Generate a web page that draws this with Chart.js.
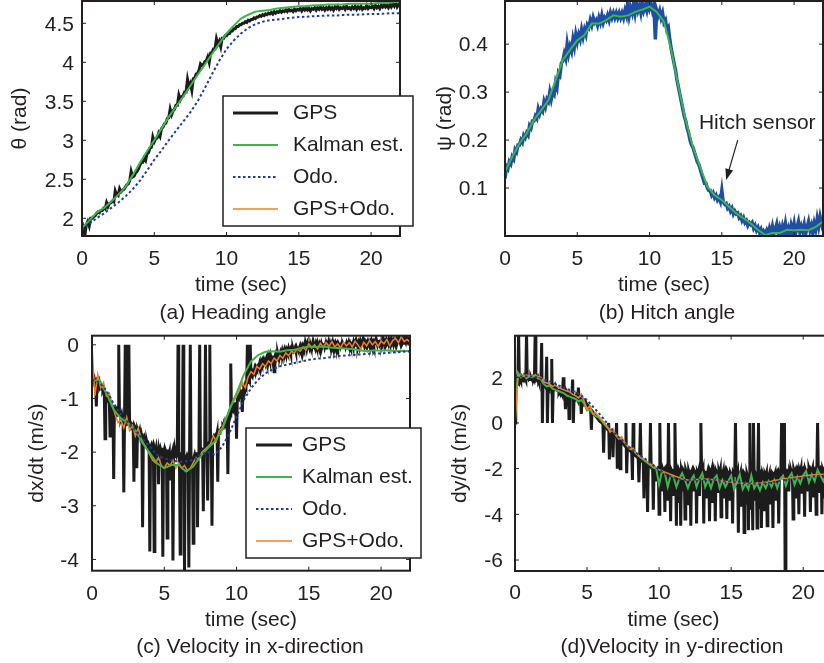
<!DOCTYPE html>
<html>
<head>
<meta charset="utf-8">
<script src="https://cdn.jsdelivr.net/npm/chart.js@4.4.0/dist/chart.umd.min.js"></script>
<style>
  body { margin: 0; width: 824px; height: 663px; overflow: hidden; background: #fff; position: relative;
         font-family: 'Liberation Sans', Arial, sans-serif; color: #231f20; }
  canvas { position: absolute; }
  .cap { position: absolute; font-size: 21px; line-height: 1; white-space: nowrap; transform: translate(-50%, -50%); }
</style>
</head>
<body>
<canvas id="heading" width="416" height="320" style="left:0;top:0;width:416px;height:320px"></canvas>
<canvas id="hitch" width="404" height="320" style="left:420px;top:0;width:404px;height:320px"></canvas>
<canvas id="velx" width="430" height="343" style="left:0;top:320px;width:430px;height:343px"></canvas>
<canvas id="vely" width="410" height="343" style="left:425px;top:320px;width:410px;height:343px"></canvas>
<div class="cap" style="left:243px;top:311px">(a) Heading angle</div>
<div class="cap" style="left:667px;top:311px">(b) Hitch angle</div>
<div class="cap" style="left:250px;top:645px">(c) Velocity in x-direction</div>
<div class="cap" style="left:672px;top:645px">(d)Velocity in y-direction</div>
<script>
/* sampling steps (sec) */
const dtGps = 0.05;
const dtTenth = 0.1;
const dtFifth = 0.2;
const dtHalf = 0.5;

const timeTicks = [0, 5, 10, 15, 20];

/* (a) heading angle, rad */
const gpsHeading = [
  1.95,1.86,1.78,1.92,1.96,1.9,2.0,2.0,2.02,2.03,
  2.06,2.08,2.07,2.1,2.1,2.13,2.12,2.2,2.15,2.19,
  2.2,2.22,2.21,2.35,2.3,2.29,2.38,2.34,2.36,2.37,
  2.4,2.43,2.44,2.48,2.6,2.53,2.54,2.58,2.6,2.63,
  2.68,2.72,2.72,2.77,2.74,2.83,2.84,2.9,2.91,3.04,
  2.98,3.02,3.03,3.09,3.05,3.15,3.17,3.21,3.22,3.28,
  3.29,3.4,3.33,3.38,3.4,3.45,3.45,3.58,3.52,3.56,
  3.57,3.62,3.62,3.78,3.69,3.73,3.64,3.79,3.8,3.85,
  3.86,3.9,3.98,3.96,3.97,4.01,4.02,4.07,4.0,4.12,
  4.13,4.17,4.17,4.3,4.23,4.27,4.2,4.31,4.31,4.34,
  4.34,4.37,4.37,4.4,4.4,4.43,4.43,4.46,4.46,4.48,
  4.48,4.5,4.5,4.52,4.51,4.54,4.53,4.55,4.55,4.57,
  4.56,4.58,4.58,4.6,4.59,4.61,4.6,4.62,4.61,4.63,
  4.62,4.64,4.62,4.65,4.63,4.65,4.64,4.66,4.64,4.66,
  4.65,4.67,4.65,4.68,4.66,4.67,4.65,4.68,4.66,4.68,
  4.67,4.69,4.66,4.69,4.67,4.7,4.67,4.69,4.66,4.69,
  4.68,4.7,4.67,4.7,4.68,4.71,4.68,4.7,4.67,4.7,
  4.68,4.71,4.68,4.7,4.67,4.71,4.69,4.72,4.68,4.7,
  4.69,4.71,4.68,4.72,4.69,4.7,4.68,4.71,4.69,4.72,
  4.68,4.71,4.69,4.72,4.68,4.7,4.69,4.73,4.69,4.71,
  4.7,4.72,4.69,4.73,4.7,4.72,4.69,4.73,4.71,4.74,
  4.71,4.73,4.7,4.74,4.71,4.75,4.72,4.76,4.71,4.74,
  4.72
];
const kalmanHeading = [
  1.88,1.97,2.07,2.13,2.21,2.3,2.4,2.55,2.71,2.86,
  3.0,3.15,3.3,3.43,3.56,3.7,3.84,3.97,4.11,4.24,
  4.37,4.47,4.56,4.61,4.65,4.66,4.67,4.69,4.7,4.71,
  4.72,4.72,4.73,4.73,4.74,4.74,4.74,4.75,4.75,4.75,
  4.75,4.76,4.76,4.77,4.78
];
const odoHeading = [
  1.85,1.93,2.0,2.06,2.13,2.2,2.28,2.37,2.48,2.61,
  2.75,2.87,3.0,3.12,3.24,3.36,3.5,3.67,3.85,4.02,
  4.17,4.28,4.37,4.44,4.49,4.52,4.54,4.55,4.56,4.57,
  4.58,4.585,4.59,4.595,4.6,4.6,4.605,4.61,4.61,4.615,
  4.62,4.62,4.625,4.63,4.63
];

/* (b) hitch angle, rad */
const hitchSensor = [
  0.12,0.145,0.14,0.155,0.15,0.165,0.16,0.18,0.175,0.19,
  0.19,0.2,0.195,0.21,0.205,0.215,0.21,0.23,0.225,0.24,
  0.24,0.25,0.245,0.265,0.255,0.265,0.26,0.28,0.27,0.285,
  0.28,0.3,0.285,0.3,0.295,0.32,0.31,0.34,0.335,0.36,
  0.365,0.38,0.37,0.4,0.38,0.395,0.385,0.41,0.395,0.42,
  0.405,0.42,0.41,0.43,0.415,0.43,0.42,0.44,0.435,0.45,
  0.44,0.455,0.445,0.45,0.44,0.455,0.445,0.46,0.445,0.455,
  0.45,0.46,0.45,0.465,0.455,0.465,0.455,0.465,0.455,0.465,
  0.455,0.465,0.455,0.47,0.46,0.49,0.46,0.475,0.465,0.485,
  0.465,0.485,0.47,0.48,0.465,0.485,0.47,0.48,0.47,0.49,
  0.475,0.485,0.47,0.48,0.41,0.47,0.46,0.47,0.455,0.465,
  0.445,0.45,0.43,0.435,0.41,0.39,0.375,0.36,0.345,0.325,
  0.31,0.295,0.28,0.265,0.25,0.24,0.225,0.215,0.2,0.19,
  0.185,0.175,0.165,0.155,0.15,0.14,0.13,0.12,0.11,0.11,
  0.1,0.095,0.095,0.085,0.09,0.08,0.085,0.075,0.08,0.072,
  0.095,0.07,0.066,0.068,0.058,0.062,0.052,0.058,0.046,0.052,
  0.046,0.048,0.038,0.042,0.032,0.038,0.028,0.032,0.022,0.028,
  0.024,0.028,0.016,0.022,0.012,0.018,0.008,0.014,0.002,0.01,
  0.005,0.012,0.002,0.016,0.006,0.02,0.004,0.014,0.025,0.006,
  0.018,0.004,0.02,0.008,0.026,0.006,0.016,0.002,0.022,0.01,
  0.026,0.004,0.018,0.03,0.008,0.02,0.01,0.024,0.004,0.018,
  0.03,0.012,0.022,0.004,0.026,0.014,0.036,0.02,0.04,0.026,
  0.04
];
const kalmanHitch = [
  0.134,0.165,0.193,0.214,0.242,0.262,0.283,0.325,0.367,0.388,
  0.408,0.419,0.443,0.443,0.45,0.46,0.457,0.46,0.467,0.472,
  0.478,0.467,0.447,0.388,0.311,0.242,0.186,0.144,0.103,0.085,
  0.075,0.061,0.047,0.037,0.026,0.013,0.002,0.006,0.006,0.013,
  0.012,0.013,0.012,0.019,0.03
];

/* (c) velocity x, m/s */
const gpsVx = [
  -0.55,-0.6,-0.65,-0.62,-0.7,-0.68,-1.15,-0.7,-0.72,-0.75,-0.7,-0.78,-0.75,-0.8,-0.78,-0.85,-0.82,-0.88,-1.75,-0.9,
  -0.92,-0.95,-1.0,-0.98,-1.05,-1.7,-1.08,-1.1,-1.15,-1.12,-2.5,-1.2,-1.18,-1.25,-1.22,-1.3,-1.28,0.0,-1.3,-1.32,
  -1.35,-1.3,-1.4,-1.38,-2.75,-1.42,0.0,-1.4,-1.45,-1.42,-1.48,0.0,-1.45,-1.5,-1.48,-1.52,-1.5,-1.55,-2.55,-1.52,
  -1.55,-1.6,-2.3,-1.58,-1.62,-1.65,-1.6,-1.7,-1.65,-1.72,-3.4,-1.75,-1.72,-1.8,-1.78,-1.85,-1.82,-1.88,-1.85,-1.9,
  -3.85,-1.92,-1.88,-1.95,-1.9,-2.0,-3.85,-1.95,-2.0,-1.92,-2.02,-1.95,-2.6,-1.98,-2.05,-1.95,-2.0,-1.92,-3.95,-2.0,
  -1.95,-2.05,-1.98,-2.02,-3.6,-1.95,-2.05,-2.0,-2.5,-1.98,-2.05,-2.0,-4.02,-2.05,-1.95,-2.08,-2.0,-2.05,-1.98,0.0,
  -2.05,-2.1,-3.9,-2.0,-2.08,-2.02,0.0,-2.1,-4.2,-2.05,-2.12,-2.08,-2.15,-2.1,-4.15,-2.05,0.0,-2.12,-2.18,-2.1,
  -3.7,-2.1,-2.05,-2.12,-2.08,-2.0,-3.4,-2.05,-1.98,0.0,-2.02,-1.95,-2.0,-1.92,-3.1,-1.95,-1.9,0.0,-1.92,-1.88,
  -2.9,-1.85,-1.82,0.0,-1.8,-1.78,-3.37,-1.75,-1.72,-1.78,-1.7,-1.68,-1.72,-1.65,-2.55,-1.62,-1.65,-1.6,-1.58,-1.55,
  -1.55,-1.5,-1.52,-1.45,-1.48,-1.4,-1.42,-1.38,-2.41,-1.35,-1.3,-1.32,-0.35,-1.25,-1.2,-1.22,-1.15,-1.18,-1.1,-1.08,
  -1.75,-1.02,-0.98,-1.0,-0.92,-0.95,-0.88,-0.9,-1.25,-0.85,-0.8,-0.82,-0.75,-0.78,-0.72,0.0,-0.7,-0.65,-0.68,0.0,
  -0.6,-0.55,-0.58,-0.5,-0.52,-0.45,-0.5,-0.42,-0.45,-0.4,-0.38,-0.42,-0.35,-0.4,-0.32,-0.36,-0.3,-0.34,-0.28,-0.32,
  -0.3,-0.26,-0.32,-0.24,-0.3,-0.22,-0.28,-0.2,-0.26,-0.22,-0.3,-0.2,-0.5,-0.22,-0.18,-0.25,-0.2,-0.16,-0.22,-0.18,
  -0.2,-0.14,-0.18,-0.12,-0.2,-0.15,-0.1,-0.17,-0.12,-0.19,-0.11,-0.15,-0.08,-0.14,-0.1,-0.16,-0.09,-0.13,-0.07,-0.12,
  -0.1,-0.06,-0.12,-0.05,-0.09,-0.03,-0.1,-0.06,-0.02,-0.08,-0.04,-0.1,-0.03,-0.07,-0.01,-0.06,-0.02,-0.08,0.0,-0.05,
  -0.03,-0.07,0.01,-0.04,-0.08,0.0,-0.05,0.02,-0.03,-0.07,0.01,-0.04,0.03,-0.02,-0.06,0.01,-0.03,0.02,-0.05,0.0,
  -0.02,0.03,-0.04,0.01,-0.06,0.02,-0.01,0.04,-0.03,0.0,-0.05,0.02,-0.02,0.04,-0.04,0.01,-0.03,0.03,-0.01,0.02,
  -0.04,0.02,-0.01,0.04,-0.03,0.01,-0.05,0.03,0.0,-0.02,0.04,-0.03,0.02,-0.04,0.01,0.05,-0.02,0.02,-0.03,0.01,
  0.03,-0.02,0.05,0.0,0.04,-0.03,0.06,0.01,-0.02,0.04,0.0,0.06,-0.01,0.03,0.07,0.0,0.04,-0.02,0.05,0.01,
  0.04,0.0,0.06,0.02,-0.01,0.05,0.01,0.07,0.02,0.05,-0.01,0.04,0.08,0.02,0.06,0.0,0.05,0.09,0.02,0.06,
  0.05,0.02,0.08,0.03,0.06,0.0,0.07,0.1,0.03,0.06,0.02,0.09,0.04,0.07,0.11,0.03,0.06,0.01,0.08,0.04,
  0.06,0.1,0.03,0.08,0.12,0.04,0.07,0.02,0.09,0.13,0.05,0.08,0.03,0.1,0.06,0.14,0.04,0.09,0.06,0.11,
  0.05
];
const fusedVx = [
  0.0,-0.95,-0.55,-0.8,-0.7,-0.95,-0.9,-1.1,-1.3,-1.45,
  -1.4,-1.55,-1.35,-1.6,-1.5,-1.7,-1.55,-1.75,-1.85,-1.95,
  -2.05,-2.15,-2.2,-2.1,-2.25,-2.3,-2.2,-2.25,-2.15,-2.3,
  -2.2,-2.3,-2.25,-2.35,-2.3,-2.2,-2.1,-2.15,-2.0,-1.95,
  -1.9,-1.85,-1.7,-1.8,-1.6,-1.55,-1.4,-1.3,-1.15,-1.05,
  -0.95,-0.85,-0.7,-0.8,-0.6,-0.5,-0.55,-0.4,-0.45,-0.35,
  -0.4,-0.3,-0.35,-0.25,-0.3,-0.2,-0.25,-0.15,-0.2,-0.12,
  -0.15,-0.08,-0.12,-0.04,-0.1,0.02,-0.06,0.0,-0.08,0.03,
  -0.05,0.04,-0.03,0.06,-0.04,0.02,-0.06,0.05,-0.02,0.04,
  -0.04,0.07,0.0,-0.08,0.05,-0.02,0.08,0.0,0.06,-0.03,
  0.07,0.02,0.1,-0.02,0.08,0.12,0.04,0.15,0.06,0.1,
  0.05
];
const kalmanVx = [
  -0.65,-0.68,-0.9,-1.21,-1.37,-1.46,-1.59,-1.83,-2.02,-2.21,
  -2.3,-2.24,-2.24,-2.36,-2.27,-2.08,-1.93,-1.8,-1.59,-1.21,
  -0.9,-0.56,-0.31,-0.19,-0.13,-0.12,-0.13,-0.1,-0.09,-0.06,
  -0.03,-0.04,-0.03,-0.05,-0.06,-0.07,-0.08,-0.1,-0.12,-0.1,
  -0.11,-0.1,-0.12,-0.11,-0.12
];
const odoVx = [
  -0.65,-0.7,-0.85,-1.1,-1.3,-1.45,-1.6,-1.75,-1.9,-2.05,
  -2.12,-2.15,-2.18,-2.17,-2.15,-2.05,-2.0,-2.05,-1.9,-1.65,
  -1.34,-1.03,-0.81,-0.65,-0.53,-0.46,-0.4,-0.37,-0.34,-0.31,
  -0.28,-0.26,-0.25,-0.23,-0.21,-0.2,-0.19,-0.18,-0.17,-0.16,
  -0.16,-0.15,-0.14,-0.13,-0.12
];

/* (d) velocity y, m/s */
const gpsVy = [
  0.0,1.9,2.0,1.95,1.88,4.0,1.92,2.0,1.9,1.98,1.85,1.95,2.02,1.9,1.96,1.88,4.0,1.95,2.0,1.92,
  1.97,1.9,2.02,1.94,1.88,1.98,1.92,2.0,4.0,1.9,1.95,1.88,1.97,1.85,1.92,1.8,1.88,3.5,0.0,1.75,
  1.7,1.65,1.72,1.6,2.9,0.0,1.62,1.55,1.6,1.52,1.58,2.8,0.0,1.5,1.55,1.48,1.52,1.45,1.5,1.42,
  1.4,1.35,1.42,1.32,1.38,1.3,1.35,2.0,1.28,1.32,0.6,1.25,1.3,1.22,1.27,0.2,1.2,1.25,1.18,1.22,
  1.9,0.0,1.12,1.08,1.15,1.05,1.1,1.02,1.55,1.0,1.05,0.98,0.4,0.95,1.0,0.92,0.96,0.88,0.92,0.85,
  0.82,0.78,0.72,0.68,0.62,0.58,-0.3,0.52,0.48,0.42,0.38,0.35,0.3,0.26,0.22,0.18,0.15,0.12,0.08,0.05,
  0.02,-0.02,-0.06,-1.3,-0.1,-0.14,-0.18,-0.22,-0.25,-0.28,0.0,-1.6,-0.35,-0.38,-0.42,-0.45,-1.5,-0.5,-0.55,-0.58,
  -0.6,0.0,-2.0,-0.68,-0.72,-0.75,-2.0,-0.8,-0.84,-0.88,-0.9,-0.94,-0.98,-1.0,0.0,-2.2,-1.08,-1.1,-1.14,-1.18,
  -1.2,-1.24,-1.28,-2.5,0.0,-1.35,-1.38,-1.42,-1.45,-1.48,-1.5,-1.54,-2.6,-1.58,0.0,-1.62,-1.66,-1.68,-1.72,-3.3,
  -1.75,-1.78,-1.8,-1.82,-3.9,-1.86,-1.88,-1.9,0.0,-1.92,-1.95,-1.94,-3.8,-1.98,-1.96,-2.0,-2.5,-2.02,-1.98,-2.04,
  -4.0,0.0,-2.05,-2.1,-3.0,-2.02,-2.12,-2.06,-3.9,-2.1,-2.0,-2.14,-3.4,0.0,-2.08,-2.16,-4.3,-2.05,-2.12,-2.2,
  -3.2,-2.08,0.0,-2.15,-4.5,-2.05,-2.2,-3.5,-2.1,-2.18,-4.5,-2.08,-2.22,-3.0,-2.12,-2.2,-4.2,-2.06,-2.16,-2.24,
  -3.6,-2.1,-2.22,-2.05,-4.5,-2.18,-2.08,-2.25,-3.0,-2.12,-2.2,-2.06,-4.4,-2.16,-2.24,-2.1,-3.2,-2.18,0.0,-2.12,
  -2.22,-2.08,-4.4,-2.18,-2.26,-2.1,-3.3,-2.2,-2.06,-2.24,-4.3,-2.14,-2.22,-2.08,-3.5,-2.2,-2.12,-2.26,-4.3,-2.1,
  -2.18,-2.26,-3.0,-2.12,-2.24,-2.08,-4.1,-2.2,-2.28,-2.14,-3.3,-2.22,-2.1,-2.26,-4.2,-2.16,-2.24,-2.1,-3.4,-2.2,
  -2.28,-2.14,-4.4,-2.22,-2.3,-2.18,0.0,-2.26,-2.34,-2.2,-4.8,-2.28,-2.36,-2.22,-3.6,-2.3,-2.2,-2.34,-4.8,-2.26,
  -2.32,-3.5,-2.24,-2.36,-4.7,-2.28,0.0,-3.8,-2.3,-2.22,-4.7,0.0,-2.34,-3.4,-2.26,-2.36,-4.6,-2.24,0.0,-3.7,
  -2.3,-2.22,-4.6,-2.34,-2.26,-2.36,-3.8,-2.24,-2.32,-2.2,-4.5,-2.3,-2.36,-2.24,-3.5,-2.32,-2.22,-2.34,-4.6,-2.26,
  -2.3,-2.2,-3.4,-2.28,-2.18,-2.3,-4.4,-2.22,-2.3,-2.16,0.0,-2.26,-2.2,-2.3,0.0,-7.0,-2.2,-2.14,-2.26,-2.18,
  -3.0,-2.12,-2.22,-2.08,-2.2,-2.14,-4.2,-2.06,-2.18,-2.1,-3.3,-2.16,-2.04,-2.14,-4.0,-2.08,-2.18,-2.02,-3.1,-2.12,
  -2.04,-2.14,-4.1,-2.06,-2.16,-2.0,-3.0,-2.1,-2.02,-2.14,-3.9,-2.06,-2.12,-2.0,-3.2,-2.1,-2.04,-2.14,-4.0,-2.06,
  0.0,-2.08,-3.0,-2.12,-2.02,-2.1,-4.0,-2.04,-2.14,-2.06,-3.3,-2.0,-2.1,-2.04,-3.9,-2.12,-2.02,-2.1,-3.1,-2.06,
  -2.08
];
const kalmanVy = [
  0.0,2.2,2.0,2.1,1.95,2.05,2.0,2.1,1.95,1.9,
  1.7,1.6,1.65,1.5,1.45,1.4,1.35,1.3,1.2,1.15,
  1.1,1.05,0.95,1.0,0.85,0.55,0.6,0.4,0.3,0.25,
  0.1,-0.05,-0.2,-0.3,-0.35,-0.5,-0.65,-0.7,-0.85,-1.0,
  -1.1,-1.2,-1.3,-1.45,-1.55,-1.65,-1.75,-1.85,-1.95,-2.0,
  -2.7,-2.1,-2.2,-2.8,-2.3,-2.35,-2.8,-2.45,-2.2,-2.5,
  -2.85,-2.5,-2.3,-2.8,-2.45,-2.2,-2.8,-2.5,-2.85,-2.45,
  -2.3,-2.85,-2.5,-2.8,-2.55,-2.3,-2.9,-2.6,-2.25,-2.9,
  -2.65,-2.9,-2.3,-2.85,-2.65,-2.95,-2.6,-2.85,-2.55,-2.8,
  -2.5,-2.85,-2.45,-2.3,-2.75,-2.4,-2.2,-2.7,-2.35,-2.65,
  -2.3,-2.1,-2.6,-2.25,-2.55,-2.05,-2.3,-2.55,-2.2,-2.5,
  -2.25
];
const fusedVy = [
  0.0,2.05,2.1,2.05,2.1,2.05,2.1,2.05,2.05,2.0,
  1.8,1.75,1.7,1.6,1.65,1.55,1.5,1.45,1.4,1.35,
  1.25,1.2,1.1,1.25,0.95,0.6,0.75,0.4,0.45,0.3,
  0.15,0.0,-0.15,-0.4,-0.25,-0.55,-0.7,-0.6,-0.85,-1.0,
  -1.15,-1.1,-1.35,-1.45,-1.5,-1.6,-1.7,-1.8,-1.85,-1.95,
  -2.05,-2.1,-2.15,-2.2,-2.25,-2.3,-2.35,-2.4,-2.45,-2.47,
  -2.5,-2.5,-2.48,-2.47,-2.46,-2.45,-2.45,-2.46,-2.47,-2.48,
  -2.5,-2.52,-2.54,-2.56,-2.58,-2.6,-2.61,-2.62,-2.63,-2.64,
  -2.65,-2.65,-2.65,-2.65,-2.64,-2.63,-2.62,-2.6,-2.58,-2.55,
  -2.52,-2.5,-2.48,-2.45,-2.43,-2.42,-2.4,-2.38,-2.36,-2.34,
  -2.32,-2.3,-2.29,-2.28,-2.27,-2.26,-2.26,-2.25,-2.25,-2.25,
  -2.25
];
const odoVy = [
  2.0,2.05,2.05,2.0,1.9,1.8,1.65,1.52,1.4,1.25,
  1.0,0.65,0.3,-0.1,-0.5,-0.8,-1.1,-1.35,-1.55,-1.8,
  -2.05,-2.25,-2.4,-2.48,-2.5,-2.48,-2.47,-2.48,-2.5,-2.54,
  -2.58,-2.61,-2.63,-2.65,-2.65,-2.63,-2.58,-2.52,-2.47,-2.43,
  -2.4,-2.36,-2.32,-2.29,-2.26
];

/* colours */
const cGps = '#1c1c1c';
const cKalman = '#3db54a';
const cOdo = '#1f3c96';
const cFused = '#f47d20';
const cHitch = '#1f4ea5';
const ink = '#231f20';

Chart.defaults.font.family = "'Liberation Sans', Arial, sans-serif";
Chart.defaults.font.size = 21;
Chart.defaults.color = ink;

function pts(dt, vals) {
  return vals.map((v, i) => ({ x: i * dt, y: v }));
}

function line(label, data, color, width, order, dash) {
  return { label: label, data: data, borderColor: color, borderWidth: width, borderDash: dash || [],
           order: order, pointRadius: 0, fill: false, tension: 0 };
}

/* box round the plot with inward ticks on all four sides */
const frame = {
  id: 'frame',
  afterDatasetsDraw(chart) {
    const ctx = chart.ctx, a = chart.chartArea, x = chart.scales.x, y = chart.scales.y;
    ctx.save();
    ctx.strokeStyle = ink;
    ctx.lineWidth = 1;
    ctx.beginPath();
    x.ticks.forEach(t => {
      const p = x.getPixelForValue(t.value);
      ctx.moveTo(p, a.bottom); ctx.lineTo(p, a.bottom - 4);
      ctx.moveTo(p, a.top); ctx.lineTo(p, a.top + 4);
    });
    y.ticks.forEach(t => {
      const p = y.getPixelForValue(t.value);
      ctx.moveTo(a.left, p); ctx.lineTo(a.left + 4, p);
      ctx.moveTo(a.right, p); ctx.lineTo(a.right - 4, p);
    });
    ctx.stroke();
    ctx.lineWidth = 2;
    ctx.strokeRect(a.left, a.top, a.right - a.left, a.bottom - a.top);
    ctx.restore();
  }
};

/* matlab style legend box */
const boxLegend = {
  id: 'boxLegend',
  afterDraw(chart, args, o) {
    if (!o || !o.rows) return;
    const ctx = chart.ctx;
    ctx.save();
    ctx.fillStyle = '#fff';
    ctx.fillRect(o.x, o.y, o.w, o.h);
    ctx.lineWidth = 1.5;
    ctx.strokeStyle = ink;
    ctx.strokeRect(o.x, o.y, o.w, o.h);
    ctx.font = "21px 'Liberation Sans', Arial, sans-serif";
    ctx.textBaseline = 'middle';
    o.rows.forEach((label, i) => {
      const d = chart.data.datasets.find(s => s.label === label);
      const yy = o.y + o.first + i * o.gap;
      ctx.strokeStyle = d.borderColor;
      ctx.lineWidth = d.borderWidth;
      ctx.setLineDash(d.borderDash);
      ctx.beginPath();
      ctx.moveTo(o.x + o.s0, yy);
      ctx.lineTo(o.x + o.s1, yy);
      ctx.stroke();
      ctx.setLineDash([]);
      ctx.fillStyle = ink;
      ctx.fillText(label, o.x + o.tx, yy);
    });
    ctx.restore();
  }
};

/* text with an arrow, placed in data units */
const note = {
  id: 'note',
  afterDraw(chart, args, o) {
    if (!o || !o.text) return;
    const ctx = chart.ctx, x = chart.scales.x, y = chart.scales.y;
    const x0 = x.getPixelForValue(o.from[0]), y0 = y.getPixelForValue(o.from[1]);
    const x1 = x.getPixelForValue(o.to[0]), y1 = y.getPixelForValue(o.to[1]);
    ctx.save();
    ctx.fillStyle = ink;
    ctx.strokeStyle = ink;
    ctx.font = "21px 'Liberation Sans', Arial, sans-serif";
    ctx.textAlign = 'center';
    ctx.textBaseline = 'middle';
    ctx.fillText(o.text, x.getPixelForValue(o.at[0]), y.getPixelForValue(o.at[1]));
    const ang = Math.atan2(y1 - y0, x1 - x0);
    ctx.lineWidth = 1.2;
    ctx.beginPath();
    ctx.moveTo(x0, y0);
    ctx.lineTo(x1 - 8 * Math.cos(ang), y1 - 8 * Math.sin(ang));
    ctx.stroke();
    ctx.beginPath();
    ctx.moveTo(x1, y1);
    ctx.lineTo(x1 - 11 * Math.cos(ang) + 4 * Math.sin(ang), y1 - 11 * Math.sin(ang) - 4 * Math.cos(ang));
    ctx.lineTo(x1 - 11 * Math.cos(ang) - 4 * Math.sin(ang), y1 - 11 * Math.sin(ang) + 4 * Math.cos(ang));
    ctx.closePath();
    ctx.fill();
    ctx.restore();
  }
};

function panel(id, o) {
  return new Chart(document.getElementById(id), {
    type: 'line',
    data: { datasets: o.sets },
    options: {
      responsive: false,
      animation: false,
      events: [],
      layout: { padding: o.pad, autoPadding: false },
      plugins: {
        legend: { display: false },
        tooltip: { enabled: false },
        boxLegend: o.legend || {},
        note: o.note || {}
      },
      scales: {
        x: {
          type: 'linear', min: 0, max: 22,
          afterBuildTicks: s => { s.ticks = timeTicks.map(v => ({ value: v })); },
          afterFit: s => { s.height = o.xh; s.paddingLeft = 0; s.paddingRight = 0; },
          grid: { display: false, drawTicks: false },
          border: { display: false },
          ticks: { padding: o.xpad, maxRotation: 0, autoSkip: false, callback: v => String(v) },
          title: { display: true, text: 'time (sec)', padding: { top: 0, bottom: 0 } }
        },
        y: {
          type: 'linear', min: o.ymin, max: o.ymax,
          afterBuildTicks: s => { s.ticks = o.yticks.map(v => ({ value: v })); },
          afterFit: s => { s.width = o.yw; s.paddingTop = 0; s.paddingBottom = 0; },
          grid: { display: false, drawTicks: false },
          border: { display: false },
          ticks: { padding: o.ypad, autoSkip: false, labelOffset: 1.5, callback: v => String(v) },
          title: { display: true, text: o.ytitle, padding: { top: o.ytp, bottom: 0 } }
        }
      }
    },
    plugins: [frame, boxLegend, note]
  });
}

/* (a) */
panel('heading', {
  sets: [
    line('GPS', pts(dtTenth, gpsHeading), cGps, 3, 3),
    line('Kalman est.', pts(dtHalf, kalmanHeading), cKalman, 2, 1),
    line('Odo.', pts(dtHalf, odoHeading), cOdo, 2, 2, [2.5, 2.5]),
    line('GPS+Odo.', [], cFused, 1.5, 4)
  ],
  pad: { left: 0, top: 1, right: 16, bottom: 22 },
  xh: 62, xpad: 11, yw: 82, ypad: 8, ytp: 7.4,
  ymin: 1.773, ymax: 4.786, yticks: [2, 2.5, 3, 3.5, 4, 4.5], ytitle: 'θ (rad)',
  legend: { x: 223, y: 96, w: 190, h: 130, first: 17, gap: 32, s0: 10, s1: 55, tx: 70,
            rows: ['GPS', 'Kalman est.', 'Odo.', 'GPS+Odo.'] }
});

/* (b) */
panel('hitch', {
  sets: [
    line('Hitch sensor', pts(dtTenth, hitchSensor), cHitch, 3.5, 2),
    line('Kalman est.', pts(dtHalf, kalmanHitch), cKalman, 2, 1)
  ],
  pad: { left: 0, top: 1, right: 1, bottom: 22 },
  xh: 62, xpad: 11, yw: 85, ypad: 17, ytp: 12.4,
  ymin: 0, ymax: 0.49, yticks: [0.1, 0.2, 0.3, 0.4], ytitle: 'ψ (rad)',
  note: { text: 'Hitch sensor', at: [17.45, 0.235], from: [16.1, 0.2], to: [15.3, 0.117] }
});

/* (c) */
panel('velx', {
  sets: [
    line('GPS', pts(dtGps, gpsVx), cGps, 3, 4),
    line('Kalman est.', pts(dtHalf, kalmanVx), cKalman, 2, 2),
    line('Odo.', pts(dtHalf, odoVx), cOdo, 2, 1, [2.5, 2.5]),
    line('GPS+Odo.', pts(dtFifth, fusedVx), cFused, 1.5, 3)
  ],
  pad: { left: 0, top: 15.7, right: 20, bottom: 30.3 },
  xh: 62, xpad: 10.5, yw: 92, ypad: 13, ytp: 24.4,
  ymin: -4.21, ymax: 0.17, yticks: [-4, -3, -2, -1, 0], ytitle: 'dx/dt (m/s)',
  legend: { x: 246, y: 108, w: 175, h: 130, first: 17, gap: 32, s0: 10, s1: 46, tx: 56,
            rows: ['GPS', 'Kalman est.', 'Odo.', 'GPS+Odo.'] }
});

/* (d) */
panel('vely', {
  sets: [
    line('GPS', pts(dtGps, gpsVy), cGps, 3, 4),
    line('Kalman est.', pts(dtFifth, kalmanVy), cKalman, 2, 3),
    line('Odo.', pts(dtHalf, odoVy), cOdo, 2, 1, [2.5, 2.5]),
    line('GPS+Odo.', pts(dtFifth, fusedVy), cFused, 1.5, 2)
  ],
  pad: { left: 0, top: 15.7, right: 3, bottom: 30 },
  xh: 62, xpad: 10, yw: 90, ypad: 12, ytp: 22.4,
  ymin: -6.48, ymax: 3.82, yticks: [-6, -4, -2, 0, 2], ytitle: 'dy/dt (m/s)'
});
</script>
</body>
</html>
